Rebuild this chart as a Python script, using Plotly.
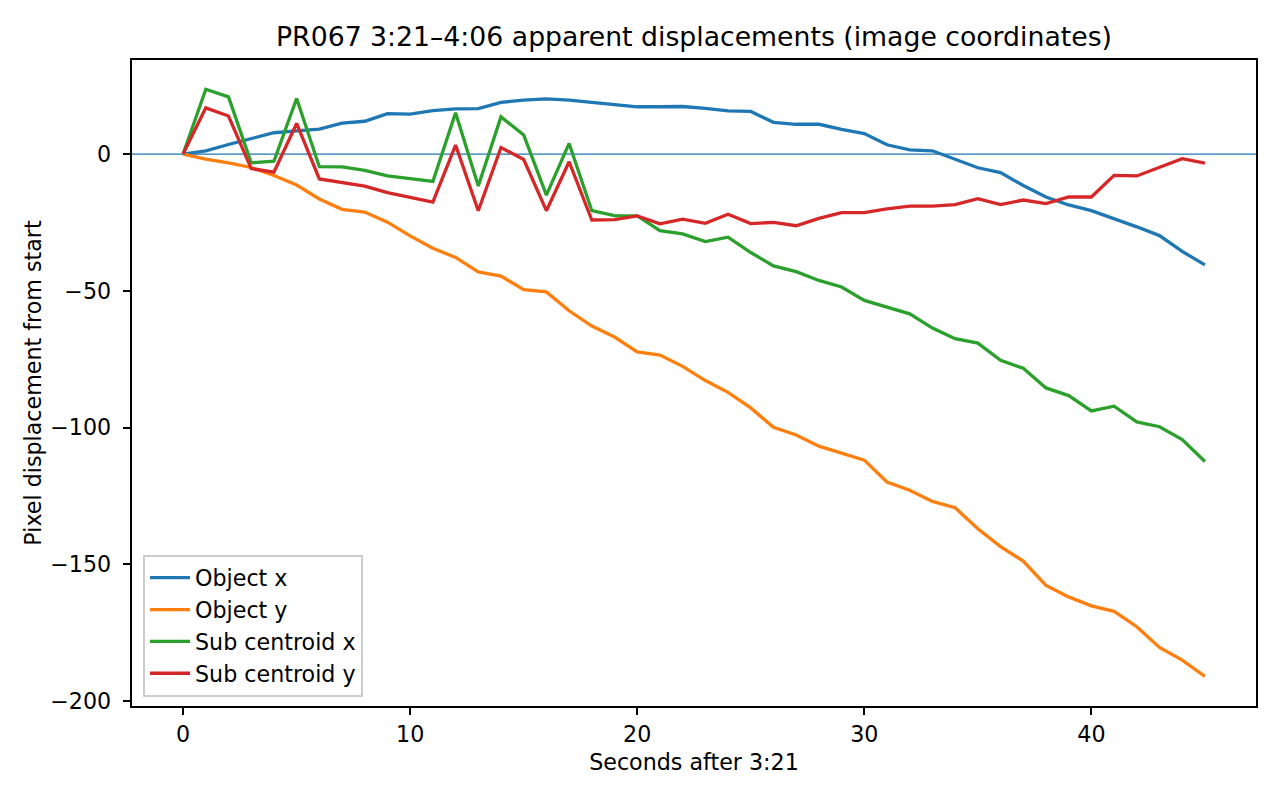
import plotly.graph_objects as go

seconds = list(range(46))

object_x = [0, 1.2, 3.5, 5.6, 7.8, 8.5, 9.1, 11.3, 12.0, 14.8, 14.6, 15.9, 16.5, 16.6, 18.9, 19.7,
            20.2, 19.7, 18.9, 17.8, 17.3, 17.3, 17.4, 16.7, 15.8, 15.6, 11.6, 10.9, 10.9, 9.0, 7.5,
            3.4, 1.5, 1.2, -1.8, -5.0, -6.8, -11.5, -15.7, -18.6, -20.7, -23.6, -26.6, -29.8, -35.6, -40.5]

object_y = [0, -1.8, -3.2, -4.9, -7.8, -11.3, -16.4, -20.2, -21.2, -24.9, -29.9, -34.4, -37.8, -43.1,
            -44.6, -49.6, -50.4, -57.3, -62.9, -66.9, -72.3, -73.5, -77.6, -82.8, -87.1, -92.8, -99.9,
            -102.7, -106.8, -109.2, -111.9, -119.9, -122.9, -127.0, -129.3, -137.0, -143.5, -148.8,
            -157.7, -161.9, -165.2, -167.2, -172.8, -180.4, -185.0, -191.0]

sub_x = [0, 23.7, 20.9, -3.2, -2.6, 20.3, -4.6, -4.7, -6.0, -8.0, -9.0, -10.0, 15.1, -11.7, 13.6, 7.0,
         -15.0, 3.9, -20.7, -22.5, -22.6, -28.0, -29.2, -32.0, -30.4, -36.0, -40.9, -43.0, -46.2,
         -48.6, -53.5, -56.0, -58.4, -63.6, -67.5, -69.1, -75.4, -78.3, -85.5, -88.3, -93.9, -92.2,
         -97.9, -99.7, -104.4, -112.4]

sub_y = [0, 16.9, 13.9, -5.3, -6.6, 11.2, -9.1, -10.3, -11.7, -14.1, -16.0, -17.6, 3.3, -20.7, 2.4, -2.0,
         -20.7, -2.8, -24.1, -24.0, -22.6, -25.5, -23.8, -25.3, -22.0, -25.4, -25.0, -26.2, -23.5,
         -21.4, -21.4, -20.0, -19.0, -19.0, -18.5, -16.3, -18.5, -16.8, -18.1, -15.7, -15.7, -7.8,
         -8.0, -4.9, -1.7, -3.3]

series = [
    ("Object x", object_x, "#1f77b4"),
    ("Object y", object_y, "#ff7f0e"),
    ("Sub centroid x", sub_x, "#2ca02c"),
    ("Sub centroid y", sub_y, "#d62728"),
]

fig = go.Figure()
for name, vals, color in series:
    fig.add_trace(go.Scatter(x=seconds, y=vals, mode="lines", name=name,
                             line=dict(color=color, width=3.3)))

fig.add_hline(y=0, line=dict(color="#1f77b4", width=1.1), layer="below")

font = "DejaVu Sans, sans-serif"
fig.update_layout(
    width=1280, height=800,
    margin=dict(l=132, r=24, t=60, b=94),
    paper_bgcolor="white", plot_bgcolor="white",
    font=dict(family=font, size=22.2, color="black"),
    title=dict(text="PR067 3:21–4:06 apparent displacements (image coordinates)",
               x=(132 + 1256) / 2 / 1280, xanchor="center", y=1 - 37 / 800, yanchor="middle",
               font=dict(size=26.7, family=font, color="black")),
    showlegend=True,
    legend=dict(x=0.01, y=0.014, xanchor="left", yanchor="bottom",
                bgcolor="rgba(255,255,255,0.8)", bordercolor="#cccccc", borderwidth=1.8,
                font=dict(size=22.2, family=font), tracegroupgap=0, itemwidth=40),
)
fig.update_xaxes(range=[-2.25, 47.25], tickvals=[0, 10, 20, 30, 40], showgrid=False, zeroline=False,
                 showline=True, linecolor="black", linewidth=1.8, mirror=True,
                 ticks="outside", ticklen=7.5, tickwidth=1.8, tickcolor="black",
                 title=dict(text="Seconds after 3:21", font=dict(size=22.2), standoff=8))
fig.update_yaxes(range=[-201.8, 34.4], tickvals=[0, -50, -100, -150, -200],
                 ticktext=["0", "−50", "−100", "−150", "−200"], showgrid=False, zeroline=False,
                 showline=True, linecolor="black", linewidth=1.8, mirror=True,
                 ticks="outside", ticklen=7.5, tickwidth=1.8, tickcolor="black",
                 ticklabelstandoff=7,
                 title=dict(text="Pixel displacement from start", font=dict(size=22.2), standoff=2))

fig.write_html("out.html")
